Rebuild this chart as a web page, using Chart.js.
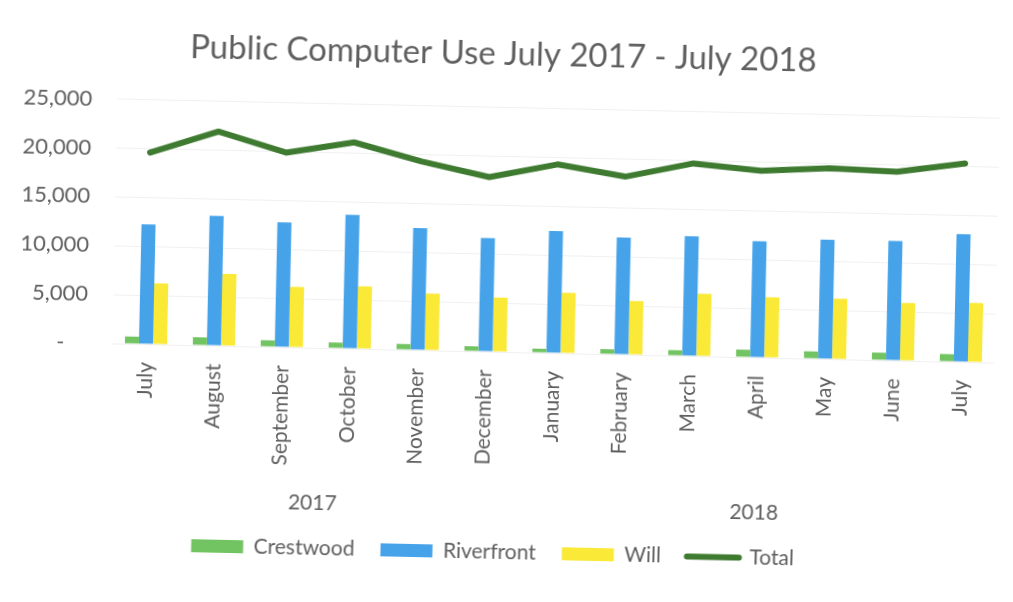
<!DOCTYPE html>
<html>
<head>
<meta charset="utf-8">
<title>Public Computer Use</title>
<script src="https://cdn.jsdelivr.net/npm/chart.js@4.4.1/dist/chart.umd.min.js"></script>
<style>
  html, body { margin: 0; padding: 0; background: #fff; overflow: hidden; }
  #wrap { width: 1013px; height: 602px; transform: rotate(1.25deg); transform-origin: 50% 50%; }
</style>
</head>
<body>
<div id="wrap"><canvas id="usage" width="1013" height="602"></canvas></div>
<script>
// Monthly sessions per branch, July 2017 - July 2018
const months = ['July', 'August', 'September', 'October', 'November', 'December',
                'January', 'February', 'March', 'April', 'May', 'June', 'July'];
const crestwood  = [730, 830, 660, 580, 590, 520, 420, 520, 550, 760, 730, 770, 760];
const riverfront = [12250, 13260, 12750, 13680, 12470, 11600, 12470, 11980, 12240, 11880, 12190, 12230, 13080];
const will       = [6250, 7360, 6200, 6400, 5800, 5550, 6180, 5490, 6400, 6180, 6180, 5900, 6070];
const total      = [19600, 21900, 19900, 21100, 19300, 17850, 19300, 18200, 19700, 19100, 19500, 19300, 20300];

// second level of the category axis
const yearGroups = [
    { label: '2017', from: 0, to: 5 },
    { label: '2018', from: 6, to: 12 }
];
const yTicks = [0, 5000, 10000, 15000, 20000, 25000];

const textGray = '#5f5f5f';
const fontFamily = 'Lato, "Open Sans", sans-serif';

const colors = {
    crestwood: '#72c362',
    riverfront: '#46a3ea',
    will: '#fae936',
    total: '#3e7b30'
};

// year labels under the month names
const yearLabels = {
    id: 'yearLabels',
    afterDraw(chart) {
        const x = chart.scales.x;
        const ctx = chart.ctx;
        ctx.save();
        ctx.font = '21px ' + fontFamily;
        ctx.fillStyle = textGray;
        ctx.textAlign = 'center';
        ctx.textBaseline = 'middle';
        yearGroups.forEach(g => {
            const cx = (x.getPixelForValue(g.from) + x.getPixelForValue(g.to)) / 2;
            ctx.fillText(g.label, cx, x.bottom - 9);
        });
        ctx.restore();
    }
};

function barSet(label, data, color) {
    return {
        type: 'bar',
        label: label,
        data: data,
        backgroundColor: color,
        borderWidth: 0,
        categoryPercentage: 0.62,
        barPercentage: 1.0
    };
}

const ctx = document.getElementById('usage').getContext('2d');

new Chart(ctx, {
    data: {
        labels: months,
        datasets: [
            barSet('Crestwood', crestwood, colors.crestwood),
            barSet('Riverfront', riverfront, colors.riverfront),
            barSet('Will', will, colors.will),
            {
                type: 'line',
                label: 'Total',
                data: total,
                borderColor: colors.total,
                backgroundColor: colors.total,
                borderWidth: 6,
                borderCapStyle: 'round',
                borderJoinStyle: 'round',
                pointRadius: 0,
                tension: 0
            }
        ]
    },
    options: {
        responsive: false,
        animation: false,
        devicePixelRatio: 1,
        layout: {
            padding: { left: 0, right: 17, top: 0, bottom: 29 }
        },
        plugins: {
            tooltip: { enabled: false },
            title: {
                display: true,
                text: 'Public Computer Use July 2017 - July 2018',
                color: textGray,
                font: { family: fontFamily, size: 33, weight: 'normal' },
                padding: { top: 35, bottom: 33 }
            },
            legend: {
                position: 'bottom',
                labels: {
                    usePointStyle: true,
                    pointStyleWidth: 52,
                    boxHeight: 13,
                    padding: 26,
                    color: textGray,
                    font: { family: fontFamily, size: 21 },
                    generateLabels(chart) {
                        const items = Chart.defaults.plugins.legend.labels.generateLabels(chart);
                        items.forEach(item => {
                            const ds = chart.data.datasets[item.datasetIndex];
                            if (ds.type === 'line') {
                                item.pointStyle = 'line';
                                item.lineWidth = 6;
                                item.lineCap = 'round';
                                item.strokeStyle = colors.total;
                            } else {
                                item.pointStyle = 'rect';
                                item.lineWidth = 0;
                            }
                        });
                        return items;
                    }
                }
            }
        },
        scales: {
            x: {
                grid: { display: false },
                border: { display: false },
                afterFit(scale) { scale.height = 164; },
                ticks: {
                    color: textGray,
                    font: { family: fontFamily, size: 21 },
                    minRotation: 90,
                    maxRotation: 90,
                    autoSkip: false,
                    padding: 10
                }
            },
            y: {
                min: yTicks[0],
                max: yTicks[yTicks.length - 1],
                afterFit(scale) { scale.width = 113; },
                afterBuildTicks(scale) {
                    scale.ticks = yTicks.map(v => ({ value: v }));
                },
                grid: { color: 'rgba(0,0,0,0.06)', drawTicks: false },
                border: { display: false },
                ticks: {
                    color: textGray,
                    font: { family: fontFamily, size: 22 },
                    padding: 25,
                    callback: v => v === 0 ? '-    ' : v.toLocaleString('en-US')
                }
            }
        }
    },
    plugins: [yearLabels]
});
</script>
</body>
</html>
